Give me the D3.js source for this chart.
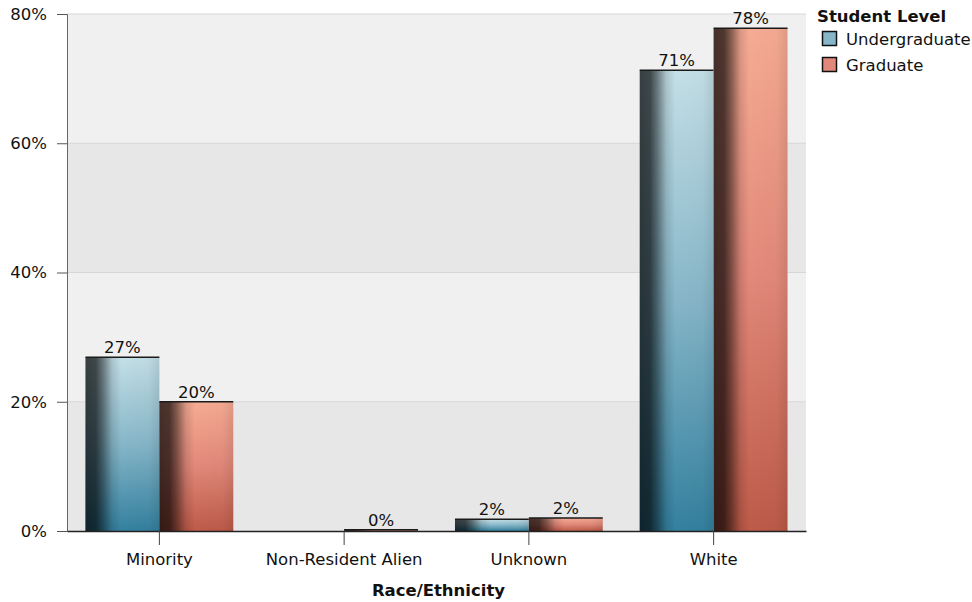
<!DOCTYPE html>
<html><head><meta charset="utf-8">
<script src="https://cdn.jsdelivr.net/npm/d3@7"></script>
<style>body{margin:0;background:#fff}text{font-family:"DejaVu Sans",sans-serif}</style>
</head><body><svg id="c" width="972" height="602"></svg>
<script>
const categories = ["Minority", "Non-Resident Alien", "Unknown", "White"];
const seriesNames = ["Undergraduate", "Graduate"];
const undergraduate = [26.9, null, 1.8, 71.3];
const graduate = [20.0, 0.2, 2.0, 77.8];
const valueLabels = [["27%", null, "2%", "71%"], ["20%", "0%", "2%", "78%"]];
const yTicks = [0, 20, 40, 60, 80];
const xTitle = "Race/Ethnicity";
const legendTitle = "Student Level";

const FS = 16.5;
const svg = d3.select("#c");
const m = {l: 67, r: 806, t: 14, b: 531};
const x = d3.scaleBand().domain(categories).range([m.l, m.r]).paddingInner(0.2).paddingOuter(0.1);
const xs = d3.scaleBand().domain(seriesNames).range([0, x.bandwidth()]);
const y = d3.scaleLinear().domain([0, 80]).range([m.b, m.t]);

const defs = svg.append("defs");
const pal = [{top:"#c4dfe7", mid:"#86b6c8", bot:"#33809f"}, {top:"#f6ab93", mid:"#e2887a", bot:"#bd5a48"}];
pal.forEach((p, i) => {
  const g = defs.append("linearGradient").attr("id", "v" + i).attr("x1", 0).attr("y1", 0).attr("x2", 0).attr("y2", 1);
  g.append("stop").attr("offset", "0%").attr("stop-color", p.top);
  g.append("stop").attr("offset", "50%").attr("stop-color", p.mid);
  g.append("stop").attr("offset", "100%").attr("stop-color", p.bot);
});
const sh = defs.append("linearGradient").attr("id", "sh").attr("x1", 0).attr("y1", 0).attr("x2", 1).attr("y2", 0);
[[0, 0.72], [0.14, 0.68], [0.24, 0.45], [0.36, 0.12], [0.48, 0], [0.85, 0.02], [1, 0.1]].forEach(s =>
  sh.append("stop").attr("offset", s[0]).attr("stop-color", "#000").attr("stop-opacity", s[1]));

// background bands
for (let i = 0; i < yTicks.length - 1; i++) {
  svg.append("rect").attr("x", m.l).attr("width", m.r - m.l)
    .attr("y", y(yTicks[i + 1])).attr("height", y(yTicks[i]) - y(yTicks[i + 1]))
    .attr("fill", i % 2 === 0 ? "#e7e7e7" : "#f0f0f0");
}
yTicks.slice(1).forEach(t => svg.append("line").attr("x1", m.l).attr("x2", m.r).attr("y1", y(t)).attr("y2", y(t))
  .attr("stroke", "#d6d6d6").attr("stroke-width", 1));

// bars
const seriesVals = [undergraduate, graduate];
seriesVals.forEach((vals, si) => {
  categories.forEach((c, ci) => {
    const v = vals[ci];
    if (v == null) return;
    const bx = x(c) + xs(seriesNames[si]), bw = xs.bandwidth();
    const by = y(v), bh = y(0) - y(v);
    svg.append("rect").attr("x", bx).attr("y", by).attr("width", bw).attr("height", bh).attr("fill", `url(#v${si})`);
    svg.append("rect").attr("x", bx).attr("y", by).attr("width", bw).attr("height", bh).attr("fill", "url(#sh)");
    svg.append("line").attr("x1", bx).attr("x2", bx + bw).attr("y1", by).attr("y2", by).attr("stroke", "#1a1a1a").attr("stroke-width", 1.5);
    svg.append("text").attr("x", bx + bw / 2).attr("y", by - 4).attr("text-anchor", "middle")
      .attr("font-size", FS).attr("fill", "#111").text(valueLabels[si][ci]);
  });
});

// y axis
const ya = svg.append("g").attr("transform", `translate(${m.l},0)`)
  .call(d3.axisLeft(y).tickValues(yTicks).tickFormat(d => d + "%").tickSize(10).tickPadding(10));
ya.select(".domain").attr("stroke", "#666");
ya.selectAll(".tick line").attr("stroke", "#555");
ya.selectAll("text").attr("font-size", FS).attr("fill", "#111").style("font-family", '"DejaVu Sans",sans-serif');

// x axis
const xa = svg.append("g").attr("transform", `translate(0,${m.b})`)
  .call(d3.axisBottom(x).tickSize(14).tickPadding(8).tickSizeOuter(0));
xa.select(".domain").attr("stroke", "#222").attr("stroke-width", 1.5);
xa.selectAll(".tick line").attr("stroke", "#444");
xa.selectAll("text").attr("font-size", FS).attr("fill", "#111").style("font-family", '"DejaVu Sans",sans-serif');

svg.append("text").attr("x", (m.l + m.r) / 2 + 2).attr("y", 596).attr("text-anchor", "middle")
  .attr("font-size", FS).attr("font-weight", "bold").attr("fill", "#111").text(xTitle);

// legend
svg.append("text").attr("x", 817).attr("y", 22).attr("font-size", FS).attr("font-weight", "bold").attr("fill", "#111").text(legendTitle);
seriesNames.forEach((n, i) => {
  const ly = 31 + i * 26;
  svg.append("rect").attr("x", 822.5).attr("y", ly + 0.5).attr("width", 14).attr("height", 14)
    .attr("fill", pal[i].mid).attr("stroke", "#111").attr("stroke-width", 1.5);
  svg.append("text").attr("x", 846).attr("y", ly + 14).attr("font-size", FS).attr("fill", "#111").text(n);
});
</script></body></html>
